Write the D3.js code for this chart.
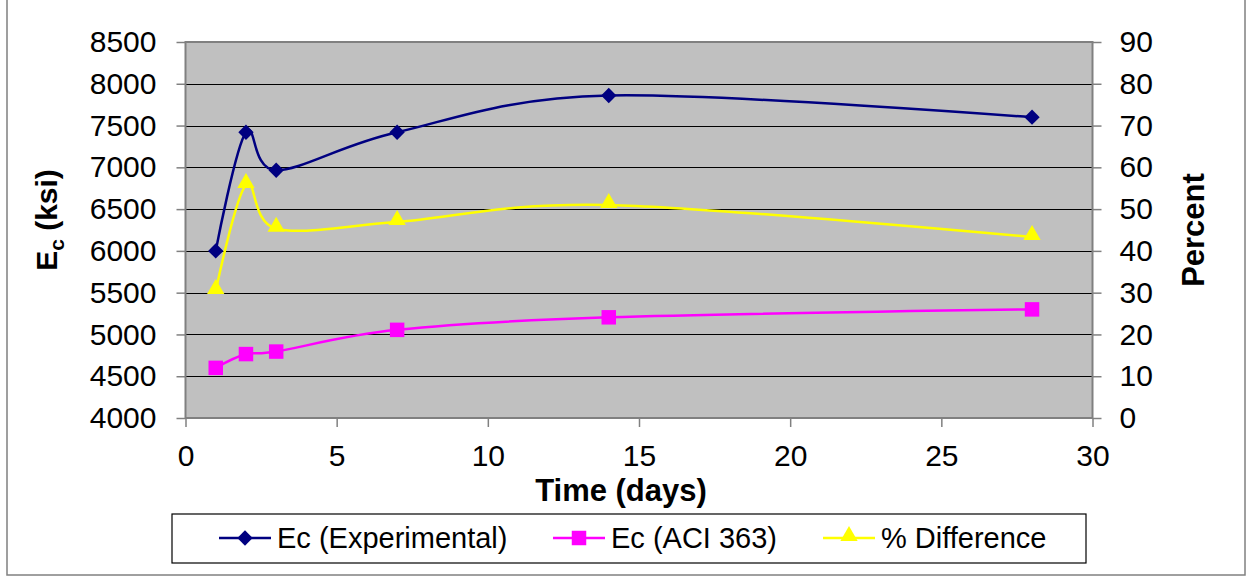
<!DOCTYPE html>
<html>
<head>
<meta charset="utf-8">
<script src="https://cdn.jsdelivr.net/npm/d3@7"></script>
<style>
  html, body { margin: 0; padding: 0; background: #fff; }
  svg { display: block; font-family: "Liberation Sans", Arial, sans-serif; }
</style>
</head>
<body>
<svg id="chart" width="1247" height="576"></svg>
<script>
// Modulus of elasticity over time
const days = [1, 2, 3, 7, 14, 28];
const ecExperimental = [6000, 7420, 6965, 7420, 7860, 7600];
const ecACI363 = [4600, 4765, 4795, 5055, 5205, 5300];
const pctDifference = [30.4, 55.8, 45.3, 46.9, 51.0, 43.3];

const xTicks = [0, 5, 10, 15, 20, 25, 30];
const leftTicks = [4000, 4500, 5000, 5500, 6000, 6500, 7000, 7500, 8000, 8500];
const rightTicks = [0, 10, 20, 30, 40, 50, 60, 70, 80, 90];

const seriesNames = ["Ec (Experimental)", "Ec (ACI 363)", "% Difference"];

const svg = d3.select("#chart");
const plot = { left: 185.5, right: 1092.5, top: 42, bottom: 418 };

const x = d3.scaleLinear().domain([0, 30]).range([plot.left, plot.right]);
const yL = d3.scaleLinear().domain([4000, 8500]).range([plot.bottom, plot.top]);
const yR = d3.scaleLinear().domain([0, 90]).range([plot.bottom, plot.top]);

// outer chart frame
svg.append("rect")
  .attr("x", 7).attr("y", -2).attr("width", 1238).attr("height", 577)
  .attr("fill", "none").attr("stroke", "#808080").attr("stroke-width", 1.5);

// plot background
svg.append("rect")
  .attr("x", plot.left).attr("y", plot.top)
  .attr("width", plot.right - plot.left).attr("height", plot.bottom - plot.top)
  .attr("fill", "#C0C0C0");

// horizontal gridlines
svg.append("g").selectAll("line")
  .data(leftTicks.slice(1, -1))
  .join("line")
  .attr("x1", plot.left).attr("x2", plot.right)
  .attr("y1", d => Math.round(yL(d)) + 0.5).attr("y2", d => Math.round(yL(d)) + 0.5)
  .attr("stroke", "#000").attr("stroke-width", 1);

// plot border
svg.append("rect")
  .attr("x", plot.left).attr("y", plot.top)
  .attr("width", plot.right - plot.left).attr("height", plot.bottom - plot.top)
  .attr("fill", "none").attr("stroke", "#808080").attr("stroke-width", 2);

const tickFont = 30;
function styleAxis(g) {
  g.select(".domain").remove();
  g.selectAll(".tick line").attr("stroke", "#808080").attr("stroke-width", 1.5);
  g.selectAll(".tick text").attr("font-size", tickFont).attr("fill", "#000")
    .attr("font-family", "'Liberation Sans', Arial, sans-serif");
}

svg.append("g").attr("transform", `translate(${plot.left},0)`)
  .call(d3.axisLeft(yL).tickValues(leftTicks).tickFormat(d3.format("d")).tickSize(9).tickPadding(20))
  .call(styleAxis);

svg.append("g").attr("transform", `translate(${plot.right},0)`)
  .call(d3.axisRight(yR).tickValues(rightTicks).tickFormat(d3.format("d")).tickSize(9).tickPadding(18))
  .call(styleAxis);

svg.append("g").attr("transform", `translate(0,${plot.bottom})`)
  .call(d3.axisBottom(x).tickValues(xTicks).tickFormat(d3.format("d")).tickSize(9).tickPadding(18))
  .call(styleAxis);

// axis titles
svg.append("text")
  .attr("x", 621).attr("y", 501)
  .attr("text-anchor", "middle").attr("font-size", 31).attr("font-weight", "bold")
  .text("Time (days)");

const ecTitle = svg.append("text")
  .attr("transform", "translate(57,220) rotate(-90)")
  .attr("text-anchor", "middle").attr("font-size", 30).attr("font-weight", "bold");
ecTitle.append("tspan").text("E");
ecTitle.append("tspan").attr("font-size", 21).attr("dy", 7).text("c");
ecTitle.append("tspan").attr("dy", -7).text(" (ksi)");

svg.append("text")
  .attr("transform", "translate(1204,230) rotate(-90)")
  .attr("text-anchor", "middle").attr("font-size", 31).attr("font-weight", "bold")
  .text("Percent");

// series
const curve = d3.curveCardinal.tension(0);
const series = [
  { name: seriesNames[0], values: ecExperimental, y: yL, color: "#000080", marker: d3.symbolDiamond2, size: 150 },
  { name: seriesNames[1], values: ecACI363, y: yL, color: "#FF00FF", marker: d3.symbolSquare, size: 210 },
  { name: seriesNames[2], values: pctDifference, y: yR, color: "#FFFF00", marker: d3.symbolTriangle, size: 130 }
];

function drawMarker(g, s, cx, cy) {
  const sym = d3.symbol().type(s.marker).size(s.size);
  g.append("path")
    .attr("d", sym())
    .attr("transform", `translate(${cx},${cy})`)
    .attr("fill", s.color);
}

series.forEach(s => {
  const pts = days.map((d, i) => [x(d), s.y(s.values[i])]);
  svg.append("path")
    .attr("d", d3.line().curve(curve)(pts))
    .attr("fill", "none").attr("stroke", s.color).attr("stroke-width", 2.5);
  const g = svg.append("g");
  pts.forEach(p => drawMarker(g, s, p[0], s.marker === d3.symbolTriangle ? p[1] - 2 : p[1]));
});

// legend
svg.append("rect")
  .attr("x", 172).attr("y", 514).attr("width", 914).attr("height", 49)
  .attr("fill", "#fff").attr("stroke", "#000").attr("stroke-width", 1.2);

const legendX = [219, 553, 823];
series.forEach((s, i) => {
  const g = svg.append("g");
  const x0 = legendX[i];
  g.append("line")
    .attr("x1", x0).attr("x2", x0 + 52).attr("y1", 538).attr("y2", 538)
    .attr("stroke", s.color).attr("stroke-width", 2.5);
  drawMarker(g, s, x0 + 26, s.marker === d3.symbolTriangle ? 536 : 538);
  g.append("text")
    .attr("x", x0 + 58).attr("y", 548)
    .attr("font-size", 29).attr("fill", "#000")
    .text(s.name);
});
</script>
</body>
</html>
